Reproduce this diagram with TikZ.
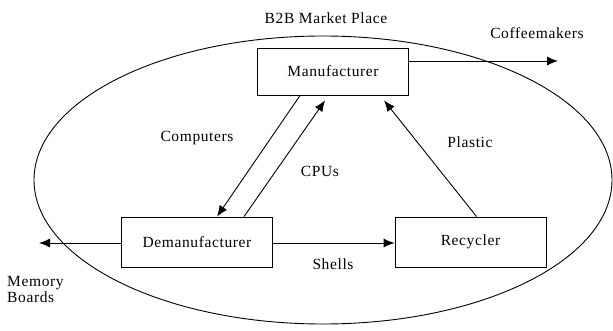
\documentclass[tikz,border=0pt]{standalone}
\usepackage{fontspec}
\setmainfont{Liberation Serif}[LetterSpace=4]
\usetikzlibrary{arrows.meta}
\begin{document}
\begin{tikzpicture}[x=1pt,y=-1pt,
  every node/.style={font=\fontsize{15.5}{16}\selectfont},
  box/.style={draw,line width=0.9pt,minimum width=151pt,minimum height=48pt,inner sep=0pt},
  lbl/.style={inner sep=1pt},
  conn/.style={line width=0.9pt},
  arr/.style={conn,-{Latex[length=11pt,width=9pt]}}]
\useasboundingbox (0,0) rectangle (613,331);
\draw[line width=0.9pt] (323,180) ellipse [x radius=289pt, y radius=144pt];
\node[box,minimum height=47pt] (manu) at (333,71.5) {Manufacturer};
\node[box,minimum height=50pt] (dem) at (197,242) {Demanufacturer};
\node[box,minimum height=50pt] (rec) at (470.5,242) {Recycler};
\coordinate (cof) at (558,61);
\coordinate (mem) at (39,243);
\node[lbl] (t1) at (326,18) {B2B Market Place};
\node[lbl] (t2) at (537,33) {Coffeemakers};
\node[lbl] (t3) at (197,138) {Computers};
\node[lbl] (t4) at (320,171) {CPUs};
\node[lbl] (t5) at (470,142) {Plastic};
\node[lbl] (t6) at (333,264) {Shells};
\node[lbl,anchor=west,align=left] (t7) at (6,289) {Memory\\Boards};
\draw[arr] (manu.east |- cof) -- (cof);
\draw[arr] (dem.west |- mem) -- (mem);
\draw[arr] (dem.east |- mem) -- (rec.west |- mem);
\draw[arr] ([xshift=43pt]manu.south west) -- ([xshift=96pt]dem.north west);
\draw[arr] ([xshift=123pt]dem.north west) -- ([xshift=68pt,yshift=-5pt]manu.south west);
\draw[arr] ([xshift=82pt]rec.north west) -- ([xshift=127pt,yshift=-5pt]manu.south west);
\end{tikzpicture}
\end{document}
